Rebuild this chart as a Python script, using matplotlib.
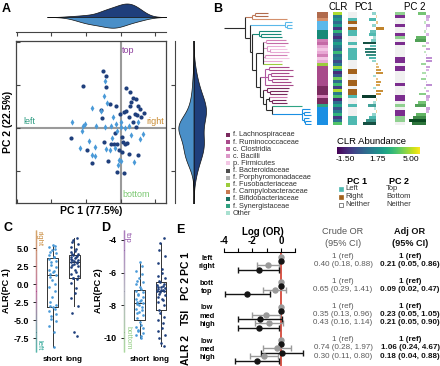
import numpy as np
import matplotlib
matplotlib.use('Agg')
import matplotlib.pyplot as plt
from matplotlib.collections import LineCollection
from matplotlib.colors import LinearSegmentedColormap, Normalize
import matplotlib.transforms as mtransforms

plt.rcParams['font.family'] = ['Liberation Sans', 'DejaVu Sans']

W, H = 440, 366
fig = plt.figure(figsize=(W / 100, H / 100), dpi=100)


def ax_px(x0, y0, x1, y1, **kw):
    return fig.add_axes([x0 / W, 1 - y1 / H, (x1 - x0) / W, (y1 - y0) / H], **kw)


DARK = '#1f3f7c'
LIGHT = '#4a9ad8'

# ---------------- Panel A data ----------------
long_x = [-0.52, -0.41, -1.10, -0.41, 0.16, 0.27, 0.35, 0.44, -0.32, -0.12, 0.26, 0.49, 0.16, -0.01, -0.57,
          -0.54, 0.42, 0.48, 0.67, 0.58, 0.23, 0.43, -1.44, -0.17, 0.04, -0.47, -0.29, -0.19, -0.10, 0.07,
          0.14, 0.18, -0.06, 0.05, -0.97, -0.82, -0.36, 0.24, 0.50, -0.11, 0.09, 0.10, 0.30, 0.55, 0.35]
long_y = [1.33, 1.21, 0.98, 0.95, 0.94, 0.84, 0.69, 0.67, 0.56, 0.52, 0.51, 0.52, 0.40, 0.33, 0.43,
          0.23, 0.33, 0.30, 0.35, 0.26, 0.25, 0.02, -0.23, -0.11, -0.20, -0.33, -0.38, -0.37, -0.38, -0.32,
          -0.36, -0.34, -0.51, -0.55, -0.50, -0.81, -0.77, -0.60, -0.63, -1.02, -1.05, 0.37, 0.60, 0.45, 0.15]
short_x = [-0.45, -0.49, -0.84, -0.57, -0.38, -0.23, -1.39, -1.04, -1.10, -0.71, -0.45, -0.27, -0.14, 0.01,
           0.02, 0.24, 0.50, -1.11, -0.10, 0.14, 0.64, 0.57, 0.29, -0.24, -0.91, -1.16, -0.75, -0.43, -0.84,
           -0.75, -0.04, 0.02, -0.07, 0.38, -0.31, -0.16]
short_y = [1.09, 0.75, 0.47, 0.40, 0.58, 0.25, 0.15, 0.10, 0.05, 0.05, 0.02, 0.05, 0.09, 0.15, 0.03, 0.05,
           0.13, -0.07, -0.07, -0.01, -0.13, -0.26, -0.16, -0.23, -0.29, -0.46, -0.44, -0.49, -0.63, -0.64,
           -0.74, -0.77, -0.86, -0.80, -0.51, -0.47]

# ---------------- Panel B data ----------------
clade_A = "((CA:13,CA:13):3,CB:35):7"
clade_LB = "(LB:7,(LB:5,LB:5):2):35"
clade_TE = "(TE:22,(TE:20,TE:21):2):7"
clade_PINK = "((PK:20,PC:22):3,(PB:18,(PF:17,PB:19):3):4,(PK:22,PF:24):2,PB:19,FU:19):7"
clade_RU = "((RU:20,RU:24):4,((RU:18,RU:22):3,(RU:16,RU:19):4):3,RU:28):5"
clade_LA = "(LA:22,(LA:18,LA:17):3):4"
clade_PL = "(PK:18,(LA:14,LA:15):3):3"
clade_BL = "(BL:8,(BL:6,BL:7):2,(BL:5,(BL:6,BL:6):1):2):30"
n_H = f"(SY:30,{clade_BL}):6"
n_G = f"({clade_PL},{n_H}):3"
n_F = f"({clade_LA},{n_G}):3"
n_E = f"({clade_RU},{n_F}):4"
n_D = f"({clade_PINK},{n_E}):4"
n_C = f"({clade_TE},{n_D}):2"
n_B = f"({clade_LB},{n_C}):5"
newick = f"({clade_A},{n_B}):21;"

tip_color = {'CA': '#b06a4c', 'CB': '#d4906c', 'LB': '#5bb8ea', 'TE': '#178a78', 'PK': '#d27fb6',
             'PC': '#c46aa6', 'PB': '#e8a8d4', 'PF': '#f3c6e4', 'FU': '#9ccc3c', 'RU': '#a84a8a',
             'LA': '#7a2a5e', 'SY': '#2fa383', 'BL': '#1a8fe3'}
tip_group = {'CA': 'campy', 'CB': 'campy', 'LB': 'lb', 'TE': 'te', 'PK': 'pink', 'PC': 'pink', 'PB': 'pink',
             'PF': 'pink', 'FU': 'fu', 'RU': 'ru', 'LA': 'la', 'SY': 'sy', 'BL': 'bl'}
group_color = {'campy': '#c07a5a', 'lb': '#5bb8ea', 'te': '#178a78', 'pink': '#dc98c8', 'fu': '#9ccc3c',
               'ru': '#b058a0', 'la': '#7a2a5e', 'sy': '#2fa383', 'bl': '#1a8fe3'}

clr_values = [4.8, 1.0, 2.0, 0.5, 2.2, -1.0, 3.0, 0.0, -1.2, 0.8, 2.3, 1.0, 0.3, 3.2, 0.6, 1.2, -0.5, 0.9,
              4.6, 2.0, -1.3, 0.0, 4.0, 0.5, 3.3, -0.8, 4.8, 1.0, 3.5, -1.4, 0.6, 2.4, -0.2, 1.0, 3.0, -1.0,
              0.8, 3.6]
pc1_class = ['N', 'N', 'L', 'R', 'N', 'R', 'L', 'L', 'N', 'N', 'L', 'N', 'L', 'L', 'L', 'L', 'N', 'N', 'N',
             'R', 'R', 'N', 'N', 'R', 'R', 'N', 'R', 'R', 'L', 'N', 'N', 'L', 'N', 'N', 'N', 'L', 'L', 'L']
pc1_load = [-0.3, 0.1, -0.6, 0.2, -0.3, 0.7, -0.5, -0.6, -0.2, -0.4, -1.1, -0.5, -0.9, -0.9, -0.8, -0.6,
            -0.3, 0.2, 0.3, 0.5, 0.6, -0.2, 0.2, 0.5, 0.4, -0.2, 0.6, 0.5, -1.2, 0.1, -0.2, -0.7, -0.1, 0.1,
            -0.3, -0.6, -0.8, -1.1]
pc2_class = ['B', 'T', 'N', 'N', 'T', 'N', 'N', 'T', 'B', 'N', 'T', 'N', 'N', 'N', 'N', 'T', 'T', 'N', 'T',
             'T', 'N', 'N', 'N', 'N', 'T', 'N', 'N', 'N', 'T', 'T', 'N', 'B', 'N', 'T', 'T', 'B', 'B', 'N']
pc2_load = [-0.5, 0.3, 0.2, -0.1, 0.3, 0.1, -0.1, 0.2, -0.6, -0.7, 0.2, -0.2, 0.3, -0.1, 0.1, 0.4, 0.4,
            -0.3, 0.3, 0.2, -0.2, 0.1, -0.3, 0.1, 0.4, -0.1, 0.2, -0.4, 0.3, 0.2, -0.5, -0.7, 0.3, 0.2, -0.6,
            -0.8, -1.1, -0.9]
pc1_class_color = {'L': '#4fb9b1', 'R': '#a3621c', 'N': '#f0f0f0'}
pc2_class_color = {'T': '#7b2d8e', 'B': '#90d090', 'N': '#f0f0f0'}

legend_names = ['f. Lachnospiraceae', 'f. Ruminococcaceae', 'c. Clostridia', 'c. Bacilli', 'p. Firmicutes',
                'f. Bacteroidaceae', 'f. Porphyromonadaceae', 'f. Fusobacteriaceae', 'f. Campylobacteraceae',
                'f. Bifidobacteriaceae', 'f. Synergistaceae', 'Other']
legend_colors = ['#7a2a5e', '#a84a8a', '#c46aa6', '#dc98c8', '#f3c6e4', '#4d4d4d', '#b0b0b0', '#9ccc3c',
                 '#c87a50', '#1a7060', '#30a080', '#a8e0d0']

# ---------------- Panel C / D data ----------------
c_short = [5.4, 5.3, 5.1, 4.9, 4.7, 4.5, 4.3, 4.0, 3.8, 3.7, 3.5, 3.2, 3.0, 2.6, 2.3, 2.0, 1.8, 1.6, 1.4,
           1.3, 1.0, 0.5, 0.0, -0.4, -1.0, -1.8, -2.5, -2.9, -3.1, -3.2, -3.5, -3.8, -4.1, -4.4, -4.8, -5.2,
           -5.8, -6.6, -8.8]
c_long = [6.4, 6.1, 5.8, 5.5, 5.2, 4.9, 4.6, 4.4, 4.2, 4.1, 4.0, 3.9, 3.8, 3.7, 3.6, 3.5, 3.4, 3.3, 3.2,
          3.1, 3.0, 2.9, 2.8, 2.7, 2.5, 2.3, 2.0, 1.7, 1.4, 1.1, 0.9, 0.8, 0.7, 0.2, -0.5, -1.2, -2.0, -3.0,
          -4.0, -6.6, -7.2]
d_short = [-5.35, -5.6, -5.9, -6.1, -6.3, -6.5, -6.6, -6.7, -6.85, -6.98, -7.1, -7.2, -7.3, -7.4, -7.5,
           -7.6, -7.7, -7.75, -7.8, -7.85, -7.9, -8.0, -8.1, -8.2, -8.3, -8.4, -8.5, -8.6, -8.8, -9.05, -9.2,
           -9.3, -9.4, -9.5, -9.6, -9.7, -9.8, -9.9, -10.0]
d_long = [-3.85, -4.2, -4.6, -5.0, -5.4, -5.8, -6.0, -6.2, -6.35, -6.5, -6.6, -6.7, -6.75, -6.8, -6.85, -6.9,
          -6.95, -7.0, -7.05, -7.08, -7.1, -7.15, -7.2, -7.3, -7.4, -7.5, -7.6, -7.7, -7.8, -8.0, -8.3, -8.5,
          -8.7, -8.9, -9.1, -9.4, -9.6, -9.8, -10.0, -10.3, -10.5]
box_groups = ['short', 'long']

# ---------------- Panel E data ----------------
e_groups = ['PC 1', 'PC 2', 'TSI', 'ALR 2']
e_group_sizes = [2, 2, 3, 3]
e_levels = ['left', 'right', 'bott', 'top', 'low', 'med', 'high', 'low', 'med', 'high']
crude_or = [1, 0.40, 1, 0.65, 1, 0.35, 0.43, 1, 0.74, 0.30]
crude_lo = [np.nan, 0.18, np.nan, 0.29, np.nan, 0.13, 0.16, np.nan, 0.28, 0.11]
crude_hi = [np.nan, 0.88, np.nan, 1.41, np.nan, 0.96, 1.14, np.nan, 1.97, 0.80]
adj_or = [1, 0.21, 1, 0.09, 1, 0.23, 0.21, 1, 1.06, 0.18]
adj_lo = [np.nan, 0.05, np.nan, 0.02, np.nan, 0.05, 0.05, np.nan, 0.24, 0.04]
adj_hi = [np.nan, 0.86, np.nan, 0.47, np.nan, 1.05, 0.90, np.nan, 4.67, 0.88]


# ================= helpers =================
def kde(vals, grid):
    v = np.asarray(vals, float)
    n = len(v)
    bw = 1.06 * v.std(ddof=1) * n ** (-0.2)
    return np.exp(-0.5 * ((grid[:, None] - v[None, :]) / bw) ** 2).sum(1) / (n * bw * np.sqrt(2 * np.pi)), bw


def grid_for(a, b):
    allv = np.concatenate([a, b])
    _, bw = kde(allv, np.array([0.0]))
    return np.linspace(allv.min() - 3 * bw, allv.max() + 3 * bw, 300)


# ================= Panel A =================
axA = ax_px(16, 41, 166, 203)
axA.set_xlim(-3.02, 1.31)
axA.set_ylim(-1.74, 2.02)
axA.axhline(0, color='#9a9a9a', lw=1.5, zorder=1)
axA.axvline(0, color='#9a9a9a', lw=1.5, zorder=1)
axA.plot(long_x, long_y, 'o', color=DARK, ms=3.0, mew=0, zorder=3)
axA.plot(short_x, short_y, 'd', color=LIGHT, ms=3.2, mew=0, zorder=3)
axA.set_xticks([-3, -2, -1, 0, 1])
axA.set_yticks([-1, 0, 1, 2])
axA.tick_params(direction='in', length=3, width=0.8, labelbottom=False, labelleft=False, colors='#444')
for s in axA.spines.values():
    s.set_color('#444')
    s.set_linewidth(0.9)
axA.text(0.05, 1.8, 'top', color='#8a3a9a', fontsize=6.5, ha='left', va='center')
axA.text(0.05, -1.55, 'bottom', color='#7ac870', fontsize=6.5, ha='left', va='center')
axA.text(-2.8, 0.14, 'left', color='#2a9a80', fontsize=6.5, ha='left', va='center')
axA.text(1.25, 0.14, 'right', color='#c88a30', fontsize=6.5, ha='right', va='center')
axA.set_xlabel('PC 1 (77.5%)', fontsize=7.5, fontweight='bold', labelpad=2)
axA.set_ylabel('PC 2 (22.5%)', fontsize=7.5, fontweight='bold', labelpad=2)

# top marginal violin
axT = ax_px(16, 2, 166, 32)
gx = grid_for(long_x, short_x)
dl, _ = kde(long_x, gx)
ds, _ = kde(short_x, gx)
sc = 0.9 / max(dl.max(), ds.max())
axT.fill_between(gx, 0, dl * sc, color=DARK, ec='#111', lw=0.5)
axT.fill_between(gx, -ds * sc, 0, color='#4a8fc8', ec='#111', lw=0.5)
axT.set_xlim(-3.02, 1.31)
axT.set_ylim(-1.0, 1.0)
for k in ['top', 'right', 'left']:
    axT.spines[k].set_visible(False)
axT.spines['bottom'].set_color('#444')
axT.set_xticks([-3, -2, -1, 0, 1])
axT.set_yticks([])
axT.tick_params(axis='x', direction='out', length=3, width=0.8, labelbottom=False, colors='#444')
axT.patch.set_alpha(0)

# right marginal violin
axR = ax_px(175, 41, 212, 203)
gy = grid_for(long_y, short_y)
dl, _ = kde(long_y, gy)
ds, _ = kde(short_y, gy)
sc = 0.82 / max(dl.max(), ds.max())
axR.fill_betweenx(gy, 0, dl * sc * 1.25, color=DARK, ec='#111', lw=0.5)
axR.fill_betweenx(gy, -ds * sc, 0, color='#4a8fc8', ec='#111', lw=0.5)
axR.set_ylim(-1.74, 2.02)
axR.set_xlim(-1, 1)
for k in ['top', 'right', 'bottom']:
    axR.spines[k].set_visible(False)
axR.spines['left'].set_color('#444')
axR.set_yticks([-1, 0, 1])
axR.set_xticks([])
axR.tick_params(axis='y', direction='out', length=3, width=0.8, labelleft=False, colors='#444')
axR.patch.set_alpha(0)


# ================= Panel B =================
def parse(s):
    pos = 0

    def node():
        nonlocal pos
        children = []
        if s[pos] == '(':
            pos += 1
            while True:
                children.append(node())
                if s[pos] == ',':
                    pos += 1
                    continue
                if s[pos] == ')':
                    pos += 1
                    break
        st = pos
        while s[pos] not in ':,();':
            pos += 1
        name = s[st:pos]
        length = 0.0
        if s[pos] == ':':
            pos += 1
            st = pos
            while s[pos] not in ',();':
                pos += 1
            length = float(s[st:pos])
        return {'name': name, 'children': children, 'length': length}

    return node()


tree = parse(newick)
tips = []
segs, cols = [], []


def lay(nd, x0):
    x = x0 + nd['length']
    nd['x'] = x
    if not nd['children']:
        nd['y'] = len(tips)
        tips.append(nd['name'])
        nd['groups'] = {tip_group[nd['name']]}
    else:
        g = set()
        for c in nd['children']:
            lay(c, x)
            g |= c['groups']
        nd['groups'] = g
        nd['y'] = (nd['children'][0]['y'] + nd['children'][-1]['y']) / 2
    if not nd['children']:
        col = tip_color[nd['name']]
    elif len(nd['groups']) == 1:
        col = group_color[next(iter(nd['groups']))]
    else:
        col = '#2b2b2b'
    segs.append([(x0, nd['y']), (x, nd['y'])])
    cols.append(col)
    if nd['children']:
        segs.append([(x, nd['children'][0]['y']), (x, nd['children'][-1]['y'])])
        cols.append(col)


lay(tree, 0.0)
nrow = len(tips)
rows = np.arange(nrow)

axTree = ax_px(222, 12, 316, 125)
axTree.add_collection(LineCollection(segs, colors=cols, linewidths=0.8))
axTree.set_xlim(-2, 92)
axTree.set_ylim(nrow - 0.5, -0.5)
axTree.axis('off')


def strip(x0, x1):
    a = ax_px(x0, 12, x1, 125)
    a.set_ylim(nrow - 0.5, -0.5)
    a.axis('off')
    return a


axTax = strip(317, 328)
axTax.barh(rows, 1, height=1.0, color=[tip_color[t] for t in tips])
axTax.set_xlim(0, 1)

cmap_clr = plt.get_cmap('viridis')
norm_clr = Normalize(-2.3, 5.8)
axClr = strip(333, 342)
axClr.barh(rows, 1, height=1.0, color=[cmap_clr(norm_clr(v)) for v in clr_values])
axClr.set_xlim(0, 1)

axP1 = strip(348, 357)
axP1.barh(rows, 1, height=1.0, color=[pc1_class_color[c] for c in pc1_class])
axP1.set_xlim(0, 1)

teal_cmap = LinearSegmentedColormap.from_list('t', ['#d3f0ea', '#4fb9b1', '#0b3d2e'])
tan_cmap = LinearSegmentedColormap.from_list('o', ['#f7e6bf', '#d9a552', '#b8781e'])
axP1b = strip(360, 386)
c1 = [teal_cmap(min(abs(v) / 1.2, 1)) if v < 0 else tan_cmap(min(v / 0.8, 1)) for v in pc1_load]
axP1b.barh(rows, pc1_load, height=0.85, color=c1)
axP1b.set_xlim(-1.35, 0.9)

axP2 = strip(395, 405)
axP2.barh(rows, 1, height=1.0, color=[pc2_class_color[c] for c in pc2_class])
axP2.set_xlim(0, 1)

green_cmap = LinearSegmentedColormap.from_list('g', ['#d5f0d5', '#6cc06c', '#0a4a20'])
lav_cmap = LinearSegmentedColormap.from_list('l', ['#efdff4', '#d2a8e0', '#b07cc8'])
axP2b = strip(407, 434)
c2 = [green_cmap(min(abs(v) / 1.1, 1)) if v < 0 else lav_cmap(min(v / 0.5, 1)) for v in pc2_load]
axP2b.barh(rows, pc2_load, height=0.85, color=c2)
axP2b.set_xlim(-1.2, 0.55)

# colorbar
axCb = ax_px(337, 147, 419, 154)
axCb.imshow(np.linspace(-2.3, 5.8, 256)[None, :], aspect='auto', cmap=cmap_clr, norm=norm_clr,
            extent=[-2.3, 5.8, 0, 1])
axCb.set_yticks([])
axCb.set_xticks([-1.5, 1.75, 5.0])
axCb.set_xticklabels(['-1.50', '1.75', '5.00'], fontsize=6)
axCb.tick_params(axis='x', length=0, pad=1.5)
for s in axCb.spines.values():
    s.set_visible(False)

# ================= Panel C and D =================
def gradient_spine(ax, c_top, c_mid, c_bot):
    y0, y1 = ax.get_ylim()
    ys = np.linspace(y0, y1, 120)
    pts = np.array([np.zeros_like(ys), ys]).T.reshape(-1, 1, 2)
    sg = np.concatenate([pts[:-1], pts[1:]], axis=1)
    cm = LinearSegmentedColormap.from_list('sp', [c_bot, c_mid, c_top])
    tr = mtransforms.blended_transform_factory(ax.transAxes, ax.transData)
    lc = LineCollection(sg, colors=cm(np.linspace(0, 1, len(sg))), linewidths=1.0, transform=tr,
                        clip_on=False)
    ax.add_collection(lc)


def box_panel(ax, data, ylim, xlim):
    ax.boxplot(data, positions=[0, 1], widths=0.5, showfliers=False, whis=1.5,
               boxprops=dict(color='#333', lw=0.7), whiskerprops=dict(color='#333', lw=0.7),
               capprops=dict(lw=0), medianprops=dict(color='#333', lw=0.7))
    for i, (vals, col) in enumerate(zip(data, [LIGHT, DARK])):
        n = len(vals)
        jit = 0.17 * np.sin(np.arange(n) * 2.39 + i)
        ax.plot(i + jit, vals, 'o', color=col, ms=1.9, mew=0, zorder=3)
    ax.set_ylim(*ylim)
    ax.set_xlim(*xlim)
    ax.set_xticks([0, 1])
    ax.set_xticklabels(box_groups, fontsize=5.8, fontweight='bold')
    ax.tick_params(axis='x', length=0, pad=3)
    ax.tick_params(axis='y', length=2, width=0.6, labelsize=6.5, pad=3)
    for k in ['top', 'right', 'bottom', 'left']:
        ax.spines[k].set_visible(False)
    ax.patch.set_alpha(0)


axC = ax_px(36, 230, 86, 352)
box_panel(axC, [c_short, c_long], (-9.44, 7.5), (-0.77, 1.55))
axC.set_yticks([5.0, 2.5, 0.0, -2.5, -5.0, -7.5])
axC.set_yticklabels(['5.0', '2.5', '0.0', '-2.5', '-5.0', '-7.5'])
for lab in axC.get_yticklabels():
    lab.set_fontweight('bold')
gradient_spine(axC, '#c8893a', '#b0508a', '#20a090')
axC.set_ylabel('ALR(PC 1)', fontsize=6.5, fontweight='bold', labelpad=2)
axC.text(-0.63, 7.3, 'right', color='#c8893a', fontsize=5.5, rotation=270, ha='center', va='top')
axC.text(-0.63, -9.2, 'left', color='#20a090', fontsize=5.5, rotation=270, ha='center', va='bottom')

axD = ax_px(124, 230, 174, 352)
box_panel(axD, [d_short, d_long], (-10.86, -3.39), (-0.72, 1.6))
axD.set_yticks([-4, -6, -8, -10])
axD.set_yticklabels(['-4', '-6', '-8', '-10'])
for lab in axD.get_yticklabels():
    lab.set_fontweight('bold')
gradient_spine(axD, '#9050a8', '#a0a0b0', '#90cc80')
axD.set_ylabel('ALR(PC 2)', fontsize=6.5, fontweight='bold', labelpad=1)
axD.text(-0.55, -3.5, 'top', color='#9050a8', fontsize=5.5, rotation=270, ha='center', va='top')
axD.text(-0.55, -10.7, 'bottom', color='#90cc80', fontsize=5.5, rotation=270, ha='center', va='bottom')

# ================= Panel E =================
axE = ax_px(215, 252, 310, 366)
ypos = []
k = 0
for gi, n in enumerate(e_group_sizes):
    for j in range(n):
        ypos.append(k + gi)
        k += 1
ypos = np.array(ypos, float)
axE.set_xlim(-4.63, 2.04)
axE.set_ylim((366 - 259) / 8.3, -(259 - 252) / 8.3)
axE.axvline(0, color='#d23a2a', lw=1.2, zorder=1)
lc_, lo_, hi_ = np.log(crude_or), np.log(crude_lo), np.log(crude_hi)
la_, loa_, hia_ = np.log(adj_or), np.log(adj_lo), np.log(adj_hi)
yc, ya = ypos - 0.27, ypos + 0.27
for est, lo, hi, yy, col in [(lc_, lo_, hi_, yc, '#9a9a9a'), (la_, loa_, hia_, ya, '#151515')]:
    has = ~np.isnan(lo)
    axE.errorbar(est[has], yy[has], xerr=[est[has] - lo[has], hi[has] - est[has]], fmt='o', color=col,
                 ms=3.6, capsize=2, elinewidth=1.0, capthick=1.0, zorder=3)
    axE.plot(est[~has], yy[~has], 'o', color=col, ms=3.6, zorder=3)
axE.xaxis.tick_top()
axE.xaxis.set_label_position('top')
axE.set_xticks([-4, -2, 0])
axE.set_xticklabels(['-4', '-2', '0'], fontsize=7, fontweight='bold')
axE.set_xticks([-3, -1, 1], minor=True)
axE.tick_params(axis='x', which='both', direction='out', length=3, width=0.8, pad=1)
axE.set_yticks([])
for kk in ['bottom', 'left', 'right']:
    axE.spines[kk].set_visible(False)
axE.spines['top'].set_bounds(-4, 1)
axE.spines['top'].set_linewidth(0.8)
axE.set_xlabel('Log (OR)', fontsize=7, fontweight='bold', labelpad=1)
axE.patch.set_alpha(0)

trE = mtransforms.blended_transform_factory(fig.transFigure, axE.transData)
for y, lev in zip(ypos, e_levels):
    axE.text(207 / W, y - 0.1, lev, transform=trE, fontsize=5.3, fontweight='bold', ha='center',
             va='center', clip_on=False)
start = 0
for g, n in zip(e_groups, e_group_sizes):
    yy = ypos[start:start + n].mean()
    axE.text(186 / W, yy, g, transform=trE, fontsize=7.5, fontweight='bold', rotation=90, ha='center',
             va='center', clip_on=False)
    start += n


def fmt(o, lo, hi):
    if np.isnan(lo):
        return '1 (ref)'
    return f'{o:.2f} ({lo:.2f}, {hi:.2f})'


for i, y in enumerate(ypos):
    axE.text(343 / W, y - 0.3, fmt(crude_or[i], crude_lo[i], crude_hi[i]), transform=trE, fontsize=5.8,
             color='#5a5a5a', ha='center', va='center', clip_on=False)
    axE.text(410 / W, y - 0.3, fmt(adj_or[i], adj_lo[i], adj_hi[i]), transform=trE, fontsize=5.8,
             color='#111', fontweight='bold', ha='center', va='center', clip_on=False)

# ================= overlay texts / legends =================
ov = fig.add_axes([0, 0, 1, 1], zorder=10)
ov.set_xlim(0, W)
ov.set_ylim(H, 0)
ov.axis('off')
ov.patch.set_alpha(0)
for lbl, x, y in [('A', 2, 9), ('B', 213, 9), ('C', 4, 228), ('D', 101, 228), ('E', 176, 230)]:
    ov.text(x, y, lbl, fontsize=9, fontweight='bold', ha='left', va='center')
ov.text(338, 7, 'CLR', fontsize=7, ha='center', va='center')
ov.text(364, 7, 'PC1', fontsize=7, ha='center', va='center')
ov.text(415, 7, 'PC 2', fontsize=7, ha='center', va='center')
for i, (nm, c) in enumerate(zip(legend_names, legend_colors)):
    y = 135 + 7.1 * i
    ov.plot(228, y, 's', color=c, ms=2.8, mew=0)
    ov.text(233, y, nm, fontsize=5.3, color='#333', ha='left', va='center')
ov.text(337, 141, 'CLR Abundance', fontsize=6.8, ha='left', va='center')
ov.text(357, 181, 'PC 1', fontsize=6.5, fontweight='bold', ha='center', va='center')
ov.text(399, 181, 'PC 2', fontsize=6.5, fontweight='bold', ha='center', va='center')
for i, (nm, c, nm2) in enumerate(zip(['Left', 'Right', 'Neither'], ['#4fb9b1', '#a3621c', 'white'],
                                     ['Top', 'Bottom', 'Neither'])):
    y = 189 + 7.8 * i
    ov.plot(341, y, 's', color=c, mec='#555' if c == 'white' else c, mew=0.5, ms=2.8)
    ov.text(345, y, nm, fontsize=5.5, color='#333', ha='left', va='center')
    ov.text(386, y, nm2, fontsize=5.5, color='#333', ha='left', va='center')
ov.text(343, 232, 'Crude OR', fontsize=6.6, color='#555', ha='center', va='center')
ov.text(343, 243, '(95% CI)', fontsize=6.6, color='#555', ha='center', va='center')
ov.text(410, 232, 'Adj OR', fontsize=6.6, color='#111', fontweight='bold', ha='center', va='center')
ov.text(410, 243, '(95% CI)', fontsize=6.6, color='#111', fontweight='bold', ha='center', va='center')

fig.savefig('out.png', dpi=100)
